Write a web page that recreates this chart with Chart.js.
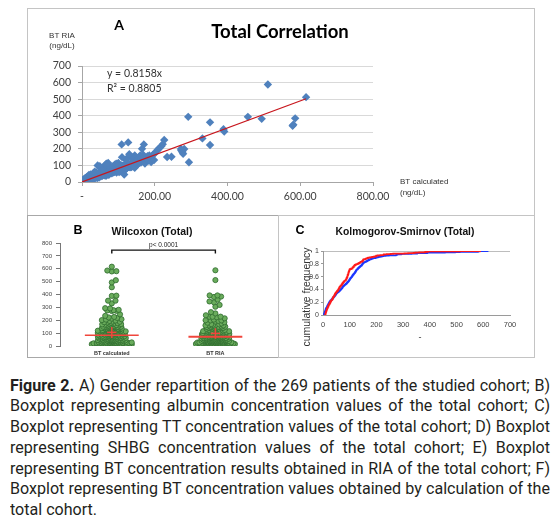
<!DOCTYPE html>
<html>
<head>
<meta charset="utf-8">
<script src="https://cdn.jsdelivr.net/npm/chart.js"></script>
<style>
  body { margin: 0; width: 559px; height: 524px; background: #fff; position: relative; overflow: hidden; }
  .box { position: absolute; box-sizing: border-box; border: 1.5px solid #c4c4c4; }
  canvas { position: absolute; }
  #caption { position: absolute; left: 10px; top: 375.7px; transform-origin: left top;
             font-family: Roboto; font-size: 16.4px; line-height: 20.75px; color: #231f20; }
  #caption div { text-align: justify; text-align-last: justify; white-space: nowrap; }
  #caption div.last { text-align-last: left; }
</style>
</head>
<body>
<div class="box" style="left:27px;top:8px;width:508px;height:208px"></div>
<div class="box" style="left:27px;top:215px;width:252px;height:143px;border-color:#a8a8a8"></div>
<div class="box" style="left:278px;top:215px;width:257px;height:143px"></div>
<canvas id="chartA" width="505" height="205" style="left:28px;top:9px"></canvas>
<canvas id="chartB" width="249" height="140" style="left:28px;top:216px"></canvas>
<canvas id="chartC" width="255" height="140" style="left:279px;top:216px"></canvas>
<div id="caption"></div>

<script>
// BT calculated vs BT RIA (ng/dL), one pair per patient
const calcVals = [
  2,3,3,4,4,5,5,5,6,6,6,7,7,7,8,8,8,9,9,9,9,10,10,10,10,
  11,11,12,12,13,13,14,14,15,15,15,16,16,17,17,18,18,19,19,20,20,20,21,21,22,22,23,23,24,24,25,25,
  26,27,28,28,29,30,31,32,32,33,34,35,35,36,37,38,38,39,40,40,41,42,43,43,44,45,45,46,47,47,48,48,49,49,50,
  51,52,53,54,55,56,57,58,59,60,61,62,63,64,65,66,66,67,68,69,70,70,71,72,72,73,73,74,74,75,
  76,77,78,79,80,81,82,83,84,85,86,87,88,89,90,90,91,92,93,94,95,95,96,97,97,98,98,99,99,100,
  101,101,102,103,104,105,105,106,107,108,108,109,109,110,111,112,112,113,114,115,115,116,117,117,118,119,119,120,120,121,122,122,123,123,124,124,125,125,102,110,
  126,127,128,129,130,131,132,133,134,135,136,137,138,139,140,141,142,143,144,145,145,146,147,147,148,149,149,150,150,130,
  152,154,155,157,158,160,162,163,165,166,168,170,172,173,175,
  178,180,183,185,188,190,195,198,201,205,208,
  213,218,222,226,234,246,272,276,278,281,273,292,294,
  331,352,352,389,391,456,494,511,579,581,586,616
];
const riaVals = [
  8,9,10,10,11,9,12,14,10,13,16,11,15,18,12,9,20,14,17,10,22,13,16,25,12,
  14,22,10,18,26,12,20,31,15,9,24,28,17,13,35,19,27,22,42,16,30,11,25,38,18,21,33,14,28,45,20,36,
  30,18,42,25,36,22,48,28,55,33,20,40,62,31,26,45,37,58,29,50,35,24,44,100,38,31,52,41,27,48,60,36,43,95,39,
  42,35,58,47,62,38,51,75,44,55,68,40,59,48,105,52,37,110,57,49,72,61,45,115,58,66,50,70,43,62,
  60,72,55,85,66,78,52,90,70,64,95,58,81,74,62,105,88,68,77,110,73,57,92,84,66,79,100,70,88,115,
  80,95,72,98,88,65,96,92,78,100,85,227,70,92,90,99,76,96,97,84,94,45,98,91,88,96,75,89,135,90,80,115,95,140,86,92,94,92,60,150,
  92,239,95,94,99,93,88,99,115,100,90,150,97,96,118,98,145,112,91,86,160,122,138,95,115,130,148,110,125,168,
  125,140,110,150,118,160,118,145,200,135,165,227,150,112,142,
  140,155,130,160,148,120,165,133,175,185,195,
  205,215,228,253,151,152,199,181,170,199,190,393,119,
  263,360,223,319,305,393,381,588,339,346,384,512
];

const trendSlope = 0.8158;
const trendR2 = '0.8805';
const xTicksA = [0, 200, 400, 600, 800];

// panel B (Wilcoxon)
const groupLabels = ['BT calculated', 'BT RIA'];
const groupMedians = [83, 72];
const groupMeans = [106, 98];
const groupMeanBars = [[62, 147], [56, 138]];
const pValueText = 'p< 0.0001';

// panel C (KS)
const ksTicksY = [0, 0.2, 0.4, 0.6, 0.8, 1];

Chart.defaults.font.family = 'Liberation Sans';
Chart.defaults.color = '#404040';

const panelText = {
  id: 'panelText',
  afterDraw(chart, args, opts) {
    const ctx = chart.ctx;
    (opts.items || []).forEach(it => {
      ctx.save();
      ctx.font = it.font;
      ctx.fillStyle = it.color || '#000';
      ctx.textAlign = it.align || 'center';
      ctx.textBaseline = 'middle';
      ctx.translate(it.x, it.y);
      if (it.rotate) ctx.rotate(it.rotate);
      ctx.fillText(it.text, 0, 0);
      ctx.restore();
    });
  }
};

const baseOpts = {
  responsive: false,
  animation: false,
  events: [],
  plugins: { legend: { display: false }, tooltip: { enabled: false } }
};

// ── A: Total Correlation ─────────────────────────
const maxCalc = Math.max(...calcVals);
new Chart(document.getElementById('chartA'), {
  type: 'scatter',
  data: {
    datasets: [
      {
        type: 'line',
        data: [{ x: 0, y: 0 }, { x: maxCalc, y: trendSlope * maxCalc }],
        borderColor: '#c8161d',
        borderWidth: 1.2,
        pointRadius: 0,
        order: 0
      },
      {
        data: calcVals.map((v, i) => ({ x: v, y: riaVals[i] })),
        pointStyle: 'rectRot',
        radius: 4.2,
        backgroundColor: '#4f81bd',
        borderColor: '#4f81bd',
        borderWidth: 0,
        order: 1
      }
    ]
  },
  options: {
    ...baseOpts,
    layout: { padding: { left: 0, top: 57, right: 160, bottom: 0 } },
    scales: {
      x: {
        type: 'linear', min: 0, max: 800,
        afterBuildTicks: s => { s.ticks = xTicksA.map(v => ({ value: v })); },
        afterFit: s => { s.height = 32; },
        ticks: { callback: v => v === 0 ? '-' : v.toFixed(2), font: { family: 'Lato', size: 10.5 }, color: '#404040', padding: 4, maxRotation: 0 },
        grid: { drawOnChartArea: false, tickLength: 4, color: '#a6a6a6' },
        border: { color: '#a6a6a6' }
      },
      y: {
        min: 0, max: 700,
        ticks: { stepSize: 100, font: { family: 'Lato', size: 10.5 }, color: '#404040', padding: 7 },
        afterFit: s => { s.width = 54; },
        grid: { color: '#d9d9d9', tickLength: 4, tickColor: '#a6a6a6' },
        border: { color: '#a6a6a6' }
      }
    },
    plugins: {
      ...baseOpts.plugins,
      panelText: { items: [
        { text: 'A', x: 91, y: 16, font: 'bold 14px Lato' },
        { text: 'Total Correlation', x: 252, y: 23, font: 'bold 18.5px Lato' },
        { text: 'BT RIA', x: 34, y: 27, font: '8px "Liberation Sans"', color: '#333' },
        { text: '(ng/dL)', x: 34, y: 37, font: '8px "Liberation Sans"', color: '#333' },
        { text: 'y = 0.8158x', x: 79, y: 65, font: '10.5px Lato', align: 'left', color: '#333' },
        { text: 'R\u00b2 = ' + trendR2, x: 79, y: 80, font: '10.5px Lato', align: 'left', color: '#333' },
        { text: 'BT calculated', x: 372, y: 173, font: '8px "Liberation Sans"', align: 'left', color: '#333' },
        { text: '(ng/dL)', x: 372, y: 184, font: '8px "Liberation Sans"', align: 'left', color: '#333' }
      ] }
    }
  },
  plugins: [panelText]
});

// ── B: Wilcoxon beeswarm ─────────────────────────
const medianHalf = 0.26, plusHalf = 0.045;
const swarmDiams = [4.6, 3.8, 3.1, 2.5, 1.9, 1.3, 0.7, 0];
// max half-width of the swarm (px), narrower higher up like the original
const swarmMaxHalf = v => v < 30 ? 20 : v < 120 ? 14 : v < 250 ? 10 : 7;

function swarm(values, center, yScale, unit) {
  const placed = [];
  const out = [];
  values.slice().sort((a, b) => a - b).forEach(v => {
    const py = yScale.getPixelForValue(v);
    const lim = swarmMaxHalf(v);
    let off = 0;
    for (const d of swarmDiams) {
      const near = placed.filter(p => Math.abs(py - p.py) < d);
      const cands = [0];
      near.forEach(p => {
        const dx = Math.sqrt(d * d - (py - p.py) * (py - p.py));
        cands.push(p.off + dx, p.off - dx);
      });
      cands.sort((a, b) => Math.abs(a) - Math.abs(b));
      const ok = cands.find(c => near.every(p => Math.hypot(c - p.off, py - p.py) >= d - 0.01));
      if (ok !== undefined && Math.abs(ok) <= lim) { off = ok; break; }
    }
    placed.push({ py, off });
    out.push({ x: center + off / unit, y: v });
  });
  return out;
}

const redLine = (data, w) => ({ type: 'line', data, borderColor: '#f0463c', borderWidth: w, pointRadius: 0, order: 0 });
const bDatasets = [];
[calcVals, riaVals].forEach((vals, g) => {
  bDatasets.push({
    data: vals.map(v => ({ x: g + 1, y: v })),
    radius: 2.6, backgroundColor: '#6aac5c', borderColor: '#2e6b2e', borderWidth: 0.8, order: 1
  });
});
groupMedians.forEach((m, g) => {
  const c = g + 1;
  bDatasets.push(redLine([{ x: c - medianHalf, y: m }, { x: c + medianHalf, y: m }], g ? 2 : 1.5));
  bDatasets.push(redLine([{ x: c - plusHalf, y: groupMeans[g] }, { x: c + plusHalf, y: groupMeans[g] }], 1.5));
  bDatasets.push(redLine([{ x: c, y: groupMeanBars[g][0] }, { x: c, y: groupMeanBars[g][1] }], 1.5));
});
bDatasets.push({
  type: 'line', data: [{ x: 1, y: 718 }, { x: 1, y: 745 }, { x: 2, y: 745 }, { x: 2, y: 718 }],
  borderColor: '#111', borderWidth: 1.4, pointRadius: 0, order: 0
});

const pLabel = {
  id: 'pLabel',
  afterDraw(chart) {
    const ctx = chart.ctx, xs = chart.scales.x;
    ctx.save();
    ctx.font = '6.5px "Liberation Sans"';
    ctx.fillStyle = '#222';
    ctx.textAlign = 'center';
    ctx.textBaseline = 'middle';
    ctx.fillText(pValueText, (xs.getPixelForValue(1) + xs.getPixelForValue(2)) / 2, 29);
    ctx.restore();
  }
};

const chartB = new Chart(document.getElementById('chartB'), {
  type: 'scatter',
  data: { datasets: bDatasets },
  options: {
    ...baseOpts,
    layout: { padding: { left: 0, top: 27, right: 15, bottom: 0 } },
    scales: {
      x: {
        type: 'linear', min: 0.5, max: 2.45,
        afterBuildTicks: s => { s.ticks = [{ value: 1 }, { value: 2 }]; },
        afterFit: s => { s.height = 10; },
        ticks: { callback: v => groupLabels[v - 1], font: { size: 5.5, weight: 'bold' }, color: '#333', padding: 4, maxRotation: 0 },
        grid: { display: false, drawTicks: false },
        border: { display: false }
      },
      y: {
        min: 0, max: 800,
        afterFit: s => { s.width = 32; },
        ticks: { stepSize: 100, font: { size: 6 }, color: '#444', padding: 4 },
        grid: { drawOnChartArea: false, tickLength: 4, color: '#777' },
        border: { color: '#777' }
      }
    },
    plugins: {
      ...baseOpts.plugins,
      panelText: { items: [
        { text: 'B', x: 50, y: 15, font: 'bold 12.5px "Liberation Sans"' },
        { text: 'Wilcoxon (Total)', x: 124, y: 16, font: 'bold 10.5px "Liberation Sans"', color: '#111' }
      ] }
    }
  },
  plugins: [panelText, pLabel]
});
{
  const xs = chartB.scales.x, ys = chartB.scales.y;
  const unit = xs.getPixelForValue(1) - xs.getPixelForValue(0);
  chartB.data.datasets[0].data = swarm(calcVals, 1, ys, unit);
  chartB.data.datasets[1].data = swarm(riaVals, 2, ys, unit);
  chartB.update('none');
}

// ── C: Kolmogorov-Smirnov cumulative frequency ───
function ecdf(values) {
  const s = values.slice().sort((a, b) => a - b);
  const pts = [{ x: s[0], y: 0 }];
  s.forEach((v, i) => pts.push({ x: v, y: (i + 1) / s.length }));
  return pts;
}

new Chart(document.getElementById('chartC'), {
  type: 'line',
  data: {
    datasets: [
      { data: ecdf(riaVals), borderColor: '#ff1a1a', borderWidth: 1.7, pointRadius: 0, stepped: 'before', order: 0 },
      { data: ecdf(calcVals), borderColor: '#1a36ff', borderWidth: 1.7, pointRadius: 0, stepped: 'before', order: 1 }
    ]
  },
  options: {
    ...baseOpts,
    layout: { padding: { left: 0, top: 35, right: 24, bottom: 0 } },
    scales: {
      x: {
        type: 'linear', min: 0, max: 700,
        afterFit: s => { s.height = 41; },
        ticks: { stepSize: 100, font: { size: 7.5 }, color: '#444', padding: 5, maxRotation: 0 },
        grid: { display: false, drawTicks: false },
        border: { color: '#9a9a9a' }
      },
      y: {
        min: 0, max: 1,
        afterBuildTicks: s => { s.ticks = ksTicksY.map(v => ({ value: v })); },
        afterFit: s => { s.width = 44; },
        ticks: { callback: v => (v === 0 || v === 1) ? String(v) : v.toFixed(1), font: { size: 7 }, color: '#444', padding: 2 },
        grid: { color: ctx => ctx.tick && ctx.tick.value === 1 ? '#bdbdbd' : 'rgba(0,0,0,0)', tickLength: 2, tickColor: '#9a9a9a' },
        border: { color: '#9a9a9a' }
      }
    },
    plugins: {
      ...baseOpts.plugins,
      panelText: { items: [
        { text: 'C', x: 21, y: 15, font: 'bold 12.5px "Liberation Sans"' },
        { text: 'Kolmogorov-Smirnov (Total)', x: 126, y: 16, font: 'bold 10.3px "Liberation Sans"', color: '#111' },
        { text: 'cumulative frequency', x: 28, y: 81, font: '10.5px "Liberation Sans"', color: '#333', rotate: -Math.PI / 2 },
        { text: '-', x: 141, y: 122, font: '9px "Liberation Sans"', color: '#333' }
      ] }
    }
  },
  plugins: [panelText]
});

// ── caption ──────────────────────────────────────
const captionBold = 'Figure 2.';
const captionLines = [
  ' A) Gender repartition of the 269 patients of the studied cohort; B)',
  'Boxplot representing albumin concentration values of the total cohort; C)',
  'Boxplot representing TT concentration values of the total cohort; D) Boxplot',
  'representing SHBG concentration values of the total cohort; E) Boxplot',
  'representing BT concentration results obtained in RIA of the total cohort; F)',
  'Boxplot representing BT concentration values obtained by calculation of the',
  'total cohort.'
];
const captionWidth = 540;
{
  const cap = document.getElementById('caption');
  const mctx = document.createElement('canvas').getContext('2d');
  let maxW = 0;
  captionLines.forEach((t, i) => {
    mctx.font = '16.4px Roboto';
    let w = mctx.measureText(t).width;
    if (i === 0) { mctx.font = 'bold 16.4px Roboto'; w += mctx.measureText(captionBold).width; }
    if (i < captionLines.length - 1) maxW = Math.max(maxW, w);
    const d = document.createElement('div');
    if (i === 0) {
      const b = document.createElement('b');
      b.textContent = captionBold;
      d.appendChild(b);
    }
    d.appendChild(document.createTextNode(t));
    if (i === captionLines.length - 1) d.className = 'last';
    cap.appendChild(d);
  });
  const s = captionWidth / (maxW + 2);
  cap.style.width = (captionWidth / s) + 'px';
  cap.style.transform = 'scaleX(' + s + ')';
}
</script>
</body>
</html>
